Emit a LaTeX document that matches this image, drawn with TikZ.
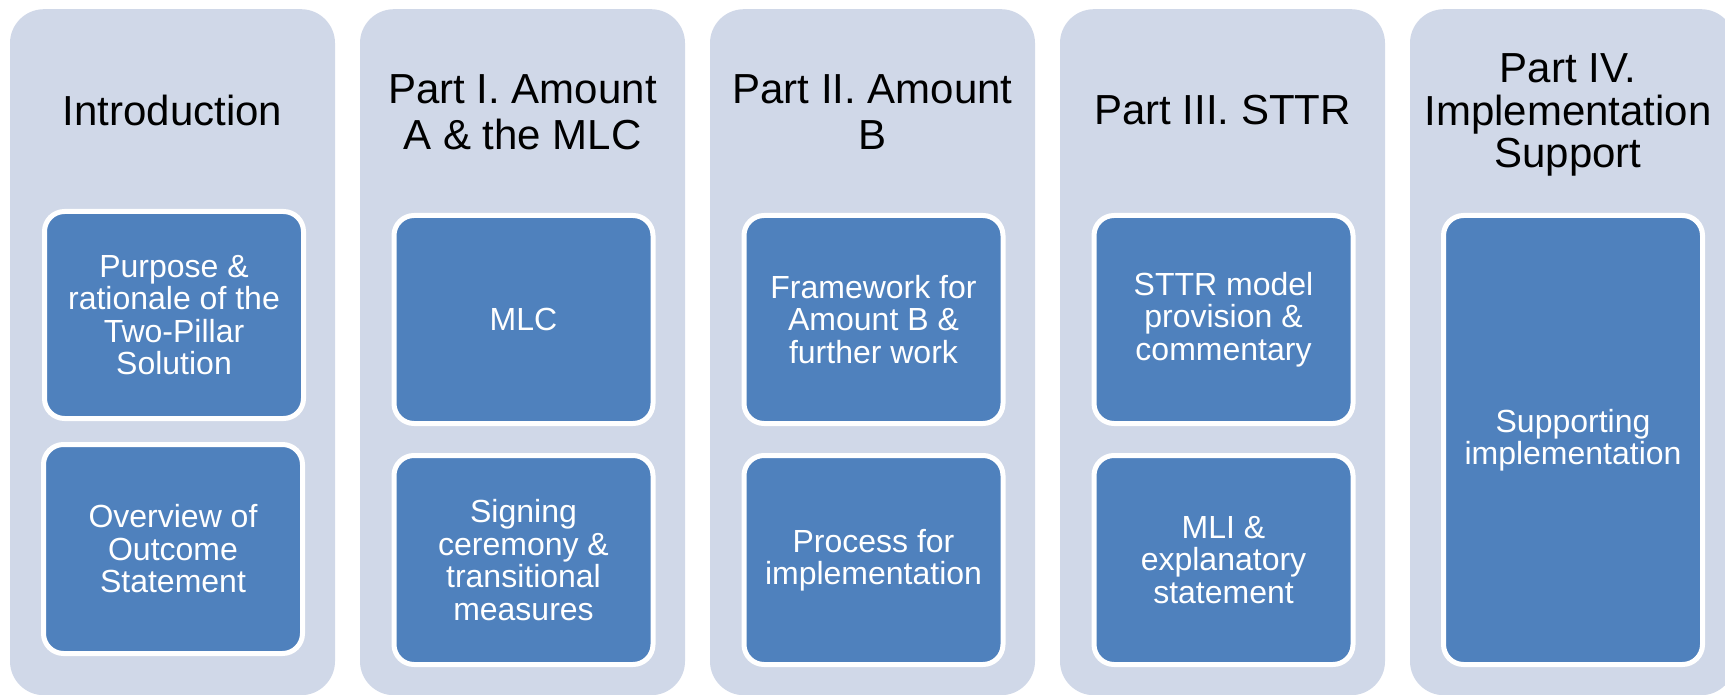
\documentclass[tikz,border=0pt]{standalone}
\usepackage{fontspec}
\setmainfont{Liberation Sans}
\definecolor{colfill}{HTML}{D0D8E8}
\definecolor{boxfill}{HTML}{4F81BD}
\begin{document}
\begin{tikzpicture}[x=1pt,y=-1pt,
  column/.style={fill=colfill, rounded corners=34pt, inner sep=0pt,
    minimum width=325pt, minimum height=686pt, anchor=north},
  title/.style={text=black, align=center, inner sep=0pt,
    font=\fontsize{42}{46}\selectfont},
  itembox/.style={fill=boxfill, draw=white, line width=5pt,
    rounded corners=20pt, text=white, align=center, inner sep=0pt,
    minimum width=259pt, font=\fontsize{32}{32.5}\selectfont}]
\useasboundingbox (0,0) rectangle (1725,695);
\clip (0,0) rectangle (1725,695);
\fill[white] (0,0) rectangle (1725,695);

% the five columns
\node[column] (c1) at (172.5,9) {};
\node[column] (c2) at (522.5,9) {};
\node[column] (c3) at (872.5,9) {};
\node[column] (c4) at (1222.5,9) {};
\node[column] (c5) at (1572.5,9) {};

% column headings
\node[title] (t1) at (172.5,110) {Introduction};
\node[title] (t2) at (522.5,112) {Part I. Amount\\A \& the MLC};
\node[title] (t3) at (872.5,112) {Part II. Amount\\B};
\node[title] (t4) at (1222.5,110) {Part III. STTR};
\node[title, font=\fontsize{42}{42.5}\selectfont] (t5) at (1568,115)
  {Part IV.\\Implementation\\Support};

% items of each column
\node[itembox, minimum height=207pt] (b11) at (174,315)
  {Purpose \&\\rationale of the\\Two-Pillar\\Solution};
\node[itembox, minimum height=209pt] (b12) at (173,549)
  {Overview of\\Outcome\\Statement};

\node[itembox, minimum height=208pt] (b21) at (523.5,319.5) {MLC};
\node[itembox, minimum height=209pt] (b22) at (523.5,560)
  {Signing\\ceremony \&\\transitional\\measures};

\node[itembox, minimum height=208pt] (b31) at (873.5,319.5)
  {Framework for\\Amount B \&\\further work};
\node[itembox, minimum height=209pt] (b32) at (873.5,560)
  {Process for\\implementation};

\node[itembox, minimum height=208pt] (b41) at (1223.5,319.5)
  {STTR model\\provision \&\\commentary};
\node[itembox, minimum height=209pt] (b42) at (1223.5,560)
  {MLI \&\\explanatory\\statement};

\node[itembox, minimum height=449pt] (b51) at (1573,440)
  {Supporting\\implementation};
\end{tikzpicture}
\end{document}
